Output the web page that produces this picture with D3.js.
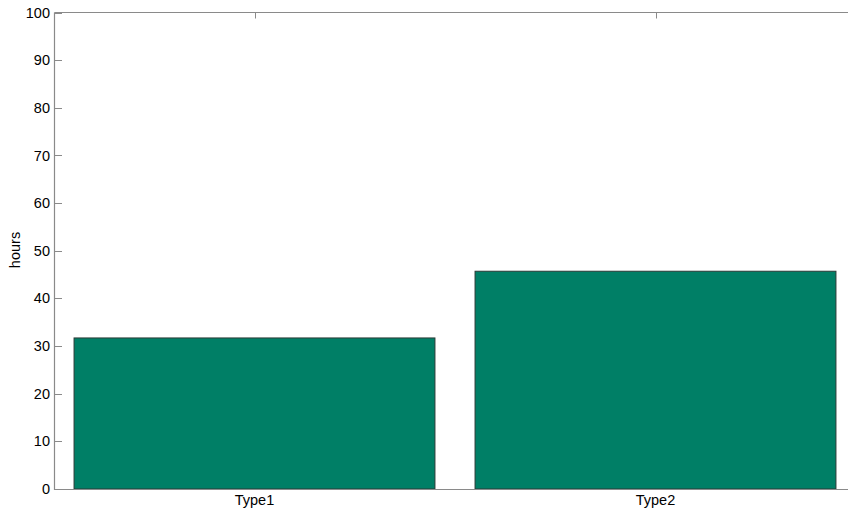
<!DOCTYPE html>
<html><head><meta charset="utf-8">
<script src="https://d3js.org/d3.v7.min.js"></script>
<style>body{margin:0;background:#fff}svg{display:block}</style>
</head><body><svg id="c" width="848" height="513"></svg>
<script>
const categories = ["Type1", "Type2"];
const values = [31.7, 45.7];
const yTicks = [0,10,20,30,40,50,60,70,80,90,100];

const svg = d3.select("#c");
const L = 54, R = 856, T = 12.5, B = 489;
const x = d3.scaleLinear().domain([0.5, 2.5]).range([L, R]);
const y = d3.scaleLinear().domain([0, 100]).range([B, T]);
const bw = (x(2) - x(1)) * 0.9;
const axisColor = "#8a8a8a";
const font = "Liberation Sans, Arial, sans-serif";
const fs = 14.5;

const g = svg.append("g");
// ticks (drawn beneath the bars)
yTicks.forEach(t => {
  const yy = Math.round(y(t)) + 0.5;
  g.append("line").attr("x1", L).attr("x2", L+8).attr("y1", yy).attr("y2", yy).attr("stroke", axisColor);
  g.append("line").attr("x1", R-8).attr("x2", R).attr("y1", yy).attr("y2", yy).attr("stroke", axisColor);
  g.append("text").attr("x", L-4).attr("y", y(t)).attr("dy","0.35em")
    .attr("text-anchor","end").attr("font-family",font)
    .attr("font-size", fs).attr("fill","#000").text(t);
});
categories.forEach((c,i) => {
  const xx = Math.round(x(i+1)) + 0.5;
  g.append("line").attr("x1", xx).attr("x2", xx).attr("y1", T).attr("y2", T+6).attr("stroke", axisColor);
  g.append("line").attr("x1", xx).attr("x2", xx).attr("y1", B).attr("y2", B-6).attr("stroke", axisColor);
  g.append("text").attr("x", x(i+1)).attr("y", 505)
    .attr("text-anchor","middle").attr("font-family",font)
    .attr("font-size", fs).attr("fill","#000").text(c);
});

svg.append("g").selectAll("rect").data(values).join("rect")
  .attr("x", (d,i) => x(i+1) - bw/2)
  .attr("y", d => y(d))
  .attr("width", bw)
  .attr("height", d => y(0) - y(d))
  .attr("fill", "#007f66")
  .attr("stroke", "#2a3a36")
  .attr("stroke-width", 1);

// box
svg.append("path").attr("d", `M${L+0.5},${T}V${B+0.5}H${R}M${L+0.5},${T}H${R}V${B+0.5}`)
  .attr("fill","none").attr("stroke",axisColor).attr("stroke-width",1.2);

svg.append("text").attr("transform","translate(20,250) rotate(-90)")
  .attr("text-anchor","middle").attr("font-family",font)
  .attr("font-size", fs).attr("fill","#000").text("hours");
</script></body></html>
